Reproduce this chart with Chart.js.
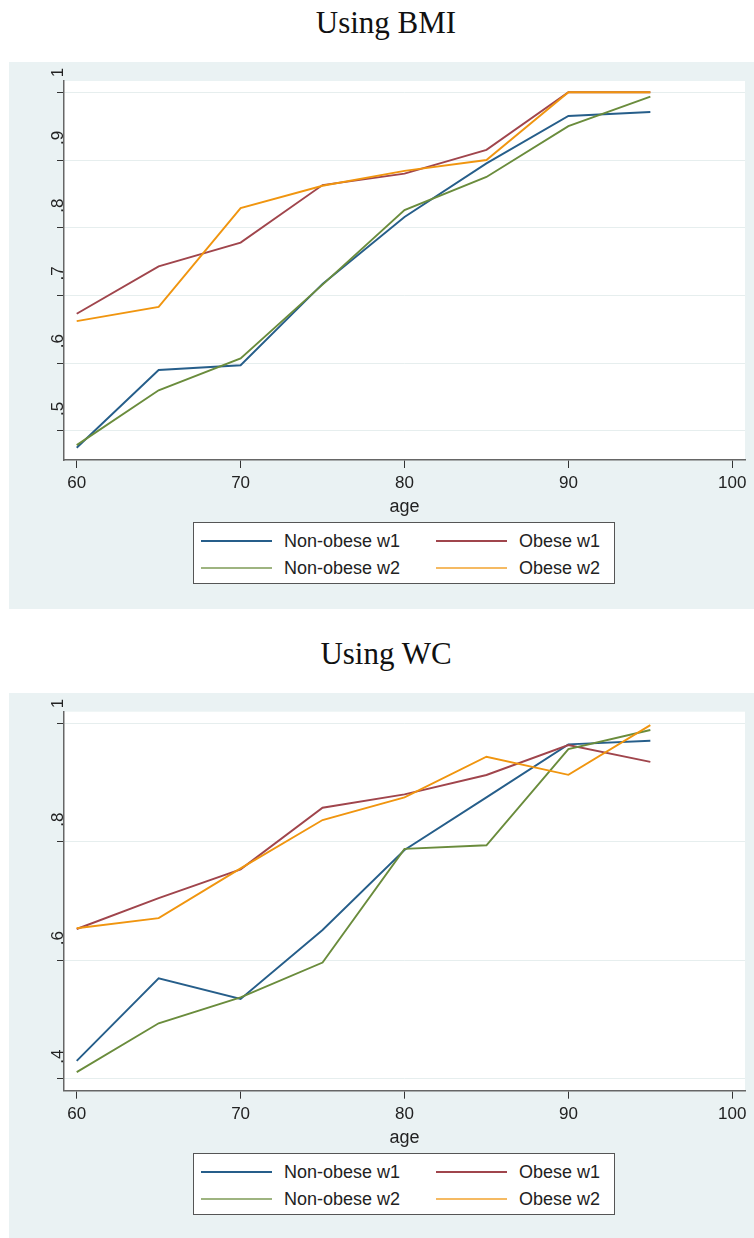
<!DOCTYPE html>
<html>
<head>
<meta charset="utf-8">
<script src="https://cdn.jsdelivr.net/npm/chart.js@4.4.1/dist/chart.umd.min.js"></script>
<style>
  html, body { margin: 0; padding: 0; background: #ffffff; }
  body { width: 754px; height: 1238px; position: relative; overflow: hidden; }
  .title { position: absolute; left: 0; width: 772px; text-align: center;
           font-family: "Liberation Serif", "Times New Roman", serif; font-size: 31px;
           line-height: 31px; color: #111; }
  .panel { position: absolute; left: 9px; width: 745px; background: #eaf2f3; }
  canvas { position: absolute; left: 0; }
  .legend { position: absolute; left: 193px; width: 422px; height: 62px; box-sizing: border-box;
            border: 1px solid #555; background: #fff; }
  .legend .line { position: absolute; width: 71px; }
  .legend .lab { position: absolute; font-family: "Liberation Sans", Arial, sans-serif;
                 font-size: 18px; line-height: 20px; color: #222; white-space: nowrap; }
</style>
</head>
<body>
<div class="title" style="top:7px">Using BMI</div>
<div class="panel" style="top:62px;height:547px"></div>
<canvas id="c1" width="754" height="547" style="top:62px"></canvas>
<div class="legend" id="lg1" style="top:522px"></div>

<div class="title" style="top:638px">Using WC</div>
<div class="panel" style="top:693px;height:545px"></div>
<canvas id="c2" width="754" height="545" style="top:693px"></canvas>
<div class="legend" id="lg2" style="top:1153px"></div>

<script>
// ---- data ----
const ages = [60, 65, 70, 75, 80, 85, 90, 95];
const seriesLabels = ['Non-obese w1', 'Obese w1', 'Non-obese w2', 'Obese w2'];
const seriesColors = ['#265e8a', '#a0454c', '#6a8c3c', '#f0950f'];

const bmiNonObeseW1 = [0.475, 0.590, 0.597, 0.717, 0.816, 0.895, 0.965, 0.971];
const bmiObeseW1    = [0.673, 0.743, 0.778, 0.863, 0.880, 0.915, 1.000, 1.000];
const bmiNonObeseW2 = [0.479, 0.560, 0.607, 0.716, 0.826, 0.875, 0.950, 0.9935];
const bmiObeseW2    = [0.662, 0.683, 0.829, 0.862, 0.884, 0.900, 1.000, 1.000];

const wcNonObeseW1 = [0.430, 0.5695, 0.5345, 0.651, 0.786, 0.875, 0.9645, 0.9706];
const wcObeseW1    = [0.6527, 0.705, 0.7535, 0.8575, 0.880, 0.9127, 0.9634, 0.935];
const wcNonObeseW2 = [0.411, 0.4935, 0.5374, 0.596, 0.788, 0.794, 0.9566, 0.9887];
const wcObeseW2    = [0.654, 0.671, 0.755, 0.8367, 0.875, 0.9436, 0.913, 0.997];

const xTicks = [60, 70, 80, 90, 100];
const bmiYTicks = [0.5, 0.6, 0.7, 0.8, 0.9, 1];
const bmiYTickLabels = ['.5', '.6', '.7', '.8', '.9', '1'];
const wcYTicks = [0.4, 0.6, 0.8, 1];
const wcYTickLabels = ['.4', '.6', '.8', '1'];
const xAxisTitle = 'age';

// ---- helpers ----
const FONT = '"Liberation Sans", Arial, sans-serif';

function buildLegend(id) {
  const el = document.getElementById(id);
  const rows = [17.5, 44.5];
  const cols = [{line: 7, text: 90}, {line: 242, text: 325}];
  seriesLabels.forEach((lab, i) => {
    const r = Math.floor(i / 2), c = i % 2;
    const ln = document.createElement('div');
    ln.className = 'line';
    ln.style.left = cols[c].line + 'px';
    ln.style.top = (rows[r] - 1) + 'px';
    ln.style.height = '2px';
    ln.style.background = seriesColors[i];
    if (r === 1) ln.style.opacity = '0.65';
    el.appendChild(ln);
    const t = document.createElement('div');
    t.className = 'lab';
    t.textContent = lab;
    t.style.left = cols[c].text + 'px';
    t.style.top = (rows[r] - 10) + 'px';
    el.appendChild(t);
  });
}

const whiteArea = {
  id: 'whiteArea',
  beforeDraw(chart) {
    const a = chart.chartArea, ctx = chart.ctx;
    ctx.save();
    ctx.fillStyle = '#ffffff';
    ctx.fillRect(a.left, a.top, a.right - a.left, a.bottom - a.top);
    ctx.restore();
  }
};

function makeYLabelPlugin(values, labels) {
  return {
    id: 'yLabels',
    afterDraw(chart) {
      const s = chart.scales.y, ctx = chart.ctx;
      ctx.save();
      ctx.font = '17px ' + FONT;
      ctx.fillStyle = '#222';
      ctx.textAlign = 'left';
      ctx.textBaseline = 'alphabetic';
      values.forEach((v, i) => {
        const py = s.getPixelForValue(v);
        ctx.save();
        ctx.translate(s.right - 1, py - 15);
        ctx.rotate(-Math.PI / 2);
        ctx.fillText(labels[i], 0, 0);
        ctx.restore();
      });
      ctx.restore();
    }
  };
}

function makeChart(canvasId, series, yMin, yMax, yTicks, yLabels, padTop, padBottom) {
  const orders = [3, 2, 1, 0];
  const datasets = series.map((vals, i) => ({
    label: seriesLabels[i],
    data: ages.map((a, k) => ({x: a, y: vals[k]})),
    borderColor: seriesColors[i],
    backgroundColor: seriesColors[i],
    borderWidth: 1.9,
    pointRadius: 0,
    tension: 0,
    fill: false,
    order: orders[i]
  }));
  return new Chart(document.getElementById(canvasId), {
    type: 'line',
    data: { datasets },
    plugins: [whiteArea, makeYLabelPlugin(yTicks, yLabels)],
    options: {
      responsive: false,
      animation: false,
      devicePixelRatio: 1,
      layout: { padding: { top: padTop, right: 9, bottom: padBottom, left: 0 } },
      plugins: { legend: { display: false }, title: { display: false }, tooltip: { enabled: false } },
      scales: {
        x: {
          type: 'linear',
          min: 59.225, max: 100.775,
          afterBuildTicks(s) { s.ticks = xTicks.map(v => ({ value: v })); },
          afterFit(s) { s.height = 60; },
          grid: { display: true, drawOnChartArea: false, drawTicks: true, tickLength: 8,
                  tickColor: '#333', tickWidth: 1, color: '#333' },
          border: { display: true, color: '#666', width: 1.5 },
          ticks: { font: { family: FONT, size: 17 }, color: '#222', padding: 5,
                   maxRotation: 0, autoSkip: false, callback: v => String(v) },
          title: { display: true, text: xAxisTitle, color: '#222',
                   font: { family: FONT, size: 18 }, padding: { top: 0, bottom: 2.2 } }
        },
        y: {
          type: 'linear',
          min: yMin, max: yMax,
          afterBuildTicks(s) { s.ticks = yTicks.map(v => ({ value: v })); },
          afterFit(s) { s.width = 64; },
          grid: { display: true, drawOnChartArea: true, drawTicks: true, tickLength: 7,
                  color: '#e6eeee', tickColor: '#333', tickWidth: 1, lineWidth: 1 },
          border: { display: true, color: '#666', width: 1.5 },
          ticks: { display: false }
        }
      }
    }
  });
}

makeChart('c1', [bmiNonObeseW1, bmiObeseW1, bmiNonObeseW2, bmiObeseW2],
          0.457, 1.0167, bmiYTicks, bmiYTickLabels, 19, 89);
makeChart('c2', [wcNonObeseW1, wcObeseW1, wcNonObeseW2, wcObeseW2],
          0.3797, 1.0196, wcYTicks, wcYTickLabels, 18.7, 87.3);
buildLegend('lg1');
buildLegend('lg2');
</script>
</body>
</html>
